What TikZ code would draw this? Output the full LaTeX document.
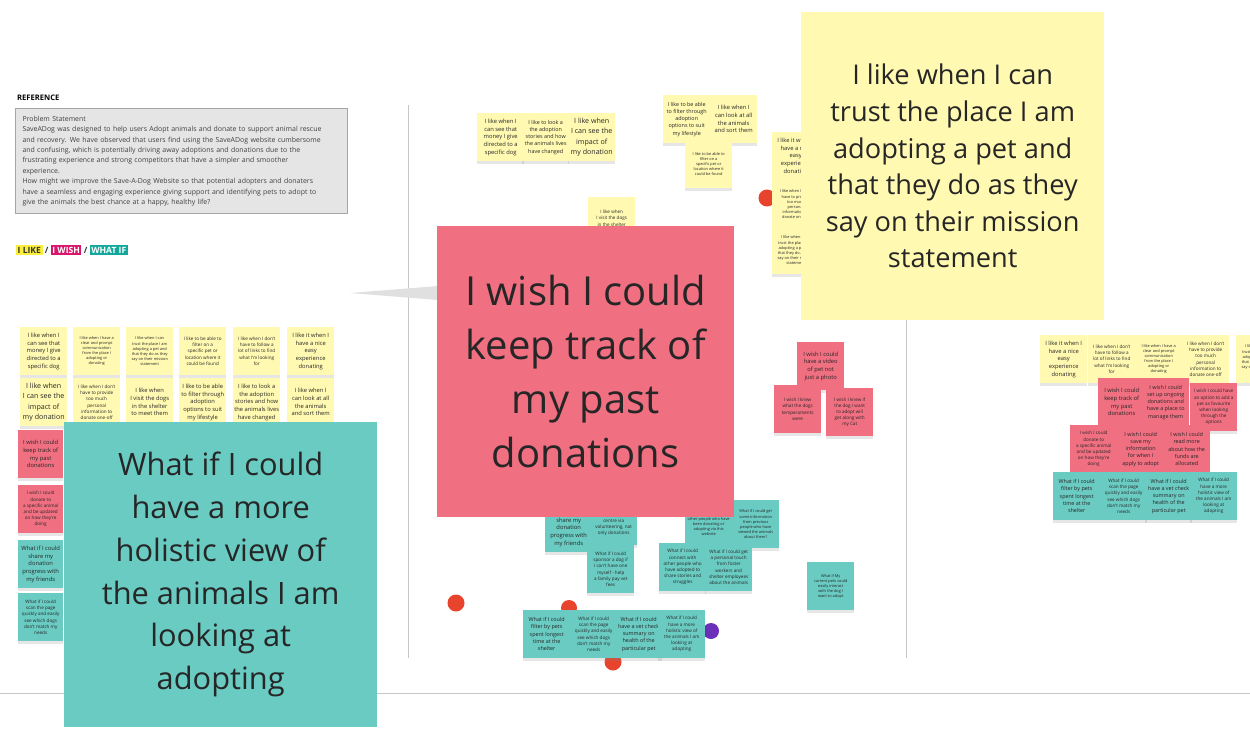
\documentclass[tikz,border=0pt]{standalone}
\usepackage{fontspec}
\setmainfont{Open Sans}
\usetikzlibrary{shadows}
\definecolor{noteY}{HTML}{FFF9B1}
\definecolor{noteP}{HTML}{F06F81}
\definecolor{noteT}{HTML}{69CBC2}
\definecolor{lgY}{HTML}{FCEF3C}
\definecolor{lgP}{HTML}{D8176C}
\definecolor{lgT}{HTML}{14A89C}
\definecolor{dotR}{HTML}{E8442D}
\definecolor{dotV}{HTML}{6B2FBA}
\definecolor{inkc}{HTML}{262626}
\begin{document}
\begin{tikzpicture}[x=1pt,y=-1pt,
  sticky/.style={anchor=north west, minimum width=47pt, minimum height=48pt,
    align=center, inner sep=0pt, text=inkc,
    drop shadow={shadow xshift=0pt, shadow yshift=-2.5pt, opacity=0.2}},
  yel/.style={sticky, fill=noteY},
  pnk/.style={sticky, fill=noteP},
  tea/.style={sticky, fill=noteT},
  fL/.style={font=\fontsize{7.1}{10.2}\selectfont},
  fM/.style={font=\fontsize{5.8}{7.7}\selectfont},
  fN/.style={font=\fontsize{5.4}{7.3}\selectfont},
  fS/.style={font=\fontsize{4.6}{6.2}\selectfont},
  fT/.style={font=\fontsize{3.9}{5.1}\selectfont},
  big/.style={anchor=north west, inner sep=0pt, align=center, text=inkc},
  sepline/.style={draw=black!22, line width=0.9pt},
  lg/.style={anchor=west, inner xsep=1.5pt, inner ysep=1.8pt, font=\fontsize{8.6}{9}\bfseries},
]
\useasboundingbox (0,0) rectangle (1250,750);
\clip (0,0) rectangle (1250,750);

% separators
\draw[sepline] (408,105) -- (408,658);
\draw[sepline] (906,105) -- (906,658);
\draw[sepline] (0,693) -- (1250,693);

% header and problem statement
\node[anchor=west, inner sep=0pt, font=\fontsize{7.6}{8}\bfseries, text=black] (ref) at (17,98) {REFERENCE};
\node[anchor=north west, draw=black!35, fill=black!10, line width=1pt, minimum width=327pt,
  minimum height=105pt, text width=318pt, inner xsep=7pt, inner ysep=4pt, align=left,
  text=black!75, font=\fontsize{6.95}{10.4}\selectfont] (ps) at (15,108)
  {Problem Statement\\
  SaveADog was designed to help users Adopt animals and donate to support animal rescue\\
  and recovery. We have observed that users find using the SaveADog website cumbersome\\
  and confusing, which is potentially driving away adoptions and donations due to the\\
  frustrating experience and strong competitors that have a simpler and smoother\\
  experience.\\
  How might we improve the Save-A-Dog Website so that potential adopters and donaters\\
  have a seamless and engaging experience giving support and identifying pets to adopt to\\
  give the animals the best chance at a happy, healthy life?};

% legend
\node[lg, fill=lgY, text=black!80] (lgA) at (16,250) {I LIKE};
\node[lg, fill=none, text=black!80, inner xsep=2pt] (s1) at (lgA.east) {/};
\node[lg, fill=lgP, text=white] (lgB) at (s1.east) {I WISH};
\node[lg, fill=none, text=black!80, inner xsep=2pt] (s2) at (lgB.east) {/};
\node[lg, fill=lgT, text=white] (lgC) at (s2.east) {WHAT IF};

% dots (behind notes)
\fill[dotR] (767,198) circle (8.5pt);
\fill[dotR] (456,603) circle (8.5pt);
\fill[dotR] (569,608) circle (8pt);
\fill[dotR] (613,662) circle (8.5pt);
\fill[dotV] (711,631) circle (8pt);

% left grid
\node[yel,fM] (l11) at (20,327) {I like when I\\can see that\\money I give\\directed to a\\specific dog};
\node[yel,fT] (l12) at (73,327) {I like when I have a\\clear and prompt\\communication\\from the place I\\adopting or\\donating};
\node[yel,fT] (l13) at (126,327) {I like when I can\\trust the place I am\\adopting a pet and\\that they do as they\\say on their mission\\statement};
\node[yel,fS] (l14) at (179,327) {I like to be able to\\filter on a\\specific pet or\\location where it\\could be found};
\node[yel,fS] (l15) at (233,327) {I like when I don't\\have to follow a\\lot of links to find\\what I'm looking\\for};
\node[yel,fM] (l16) at (287,327) {I like it when I\\have a nice\\easy\\experience\\donating};
\node[yel,fL] (l21) at (20,378) {I like when\\I can see the\\impact of\\my donation};
\node[yel,fS] (l22) at (73,378) {I like when I don't\\have to provide\\too much\\personal\\information to\\donate one-off};
\node[yel,fM] (l23) at (126,378) {I like when\\I visit the dogs\\in the shelter\\to meet them};
\node[yel,fM] (l24) at (179,378) {I like to be able\\to filter through\\adoption\\options to suit\\my lifestyle};
\node[yel,fM] (l25) at (233,378) {I like to look a\\the adoption\\stories and how\\the animals lives\\have changed};
\node[yel,fM] (l26) at (287,378) {I like when I\\can look at all\\the animals\\and sort them};

% left column
\node[pnk,fM,minimum width=45pt] (lc1) at (18,430) {I wish I could\\keep track of\\my past\\donations};
\node[pnk,fS,minimum width=45pt] (lc2) at (18,485) {I wish I could\\donate to\\a specific animal\\and be updated\\on how they're\\doing};
\node[tea,fM,minimum width=45pt] (lc3) at (18,540) {What if I could\\share my\\donation\\progress with\\my friends};
\node[tea,fS,minimum width=45pt] (lc4) at (18,593) {What if I could\\scan the page\\quickly and easily\\see which dogs\\don't match my\\needs};

% middle top
\node[yel,fM] (mA) at (477,113) {I like when I\\can see that\\money I give\\directed to a\\specific dog};
\node[yel,fN] (mB) at (522,113) {I like to look a\\the adoption\\stories and how\\the animals lives\\have changed};
\node[yel,fL] (mC) at (568,113) {I like when\\I can see the\\impact of\\my donation};
\node[yel,fN] (mD) at (663,95) {I like to be able\\to filter through\\adoption\\options to suit\\my lifestyle};
\node[yel,fM] (mE) at (710,95) {I like when I\\can look at all\\the animals\\and sort them};
\node[yel,fT] (mF) at (685,140) {I like to be able to\\filter on a\\specific pet or\\location where it\\could be found};
\node[yel,fM] (mG) at (772,132) {I like it when I\\have a nice\\easy\\experience\\donating};
\node[yel,fT] (mH) at (772,180) {I like when I don't\\have to provide\\too much\\personal\\information to\\donate one-off};
\node[yel,fT] (mI) at (772,226) {I like when I can\\trust the place I am\\adopting a pet and\\that they do as they\\say on their mission\\statement};
\node[yel,fS] (mJ) at (588,197) {I like when\\I visit the dogs\\in the shelter\\to meet them};

% middle pink trio
\node[pnk,fM] (pS) at (797,342) {I wish I could\\have a video\\of pet not\\just a photo};
\node[pnk,fS] (pT) at (774,385) {I wish I knew\\what the dogs\\temperaments\\were};
\node[pnk,fS] (pU) at (826,388) {I wish I knew if\\the dog I want\\to adopt will\\get along with\\my Cat};

% middle teal
\node[tea,fM] (tK) at (545,504) {What if I could\\share my\\donation\\progress with\\my friends};
\node[tea,fS] (tL) at (590,497) {What if I could\\help adoption\\centre via\\volunteering, not\\only donations};
\node[tea,fS] (tM) at (587,545) {What if I could\\sponsor a dog if\\I can't have one\\myself - help\\a family pay vet\\fees};
\node[tea,fT] (tN) at (685,497) {What if I could\\connect with\\other people who have\\been donating or\\adopting via this\\website};
\node[tea,fT] (tO) at (732,500) {What if I could get\\some information\\from previous\\people who have\\viewed the animals\\about them?};
\node[tea,fS] (tP) at (659,543) {What if I could\\connect with\\other people who\\have adopted to\\share stories and\\struggles};
\node[tea,fS] (tQ) at (705,543) {What if I could get\\a personal touch\\from foster\\workers and\\shelter employees\\about the animals};
\node[tea,fN] (tR1) at (523,610) {What if I could\\filter by pets\\spent longest\\time at the\\shelter};
\node[tea,fS] (tR2) at (570,610) {What if I could\\scan the page\\quickly and easily\\see which dogs\\don't match my\\needs};
\node[tea,fN] (tR3) at (615,610) {What if I could\\have a vet check\\summary on\\health of the\\particular pet};
\node[tea,fS] (tR4) at (658,610) {What if I could\\have a more\\holistic view of\\the animals I am\\looking at\\adopting};
\node[tea,fT] (tX) at (807,562) {What if My\\current pets could\\easily interact\\with the dog I\\want to adopt};

% right cluster
\node[yel,fM] (rY1) at (1040,335) {I like it when I\\have a nice\\easy\\experience\\donating};
\node[yel,fS] (rY2) at (1088,335) {I like when I don't\\have to follow a\\lot of links to find\\what I'm looking\\for};
\node[yel,fT] (rY3) at (1135,335) {I like when I have a\\clear and prompt\\communication\\from the place I\\adopting or\\donating};
\node[yel,fS] (rY4) at (1182,335) {I like when I don't\\have to provide\\too much\\personal\\information to\\donate one-off};
\node[yel,fT] (rY5) at (1236,335) {I like when I can\\trust the place I am\\adopting a pet and\\that they do as they\\say on their mission\\statement};
\node[pnk,fM] (rP1) at (1098,378) {I wish I could\\keep track of\\my past\\donations};
\node[pnk,fN] (rP2) at (1142,378) {I wish I could\\set up ongoing\\donations and\\have a place to\\manage them};
\node[pnk,fS] (rP3) at (1190,383) {I wish I could have\\an option to add a\\pet as favourite\\when looking\\through the\\options};
\node[pnk,fS] (rP4) at (1070,425) {I wish I could\\donate to\\a specific animal\\and be updated\\on how they're\\doing};
\node[pnk,fN] (rP5) at (1117,425) {I wish I could\\save my\\information\\for when I\\apply to adopt};
\node[pnk,fN] (rP6) at (1163,425) {I wish I could\\read more\\about how the\\funds are\\allocated};
\node[tea,fN] (rT1) at (1053,472) {What if I could\\filter by pets\\spent longest\\time at the\\shelter};
\node[tea,fS] (rT2) at (1100,472) {What if I could\\scan the page\\quickly and easily\\see which dogs\\don't match my\\needs};
\node[tea,fN] (rT3) at (1145,472) {What if I could\\have a vet check\\summary on\\health of the\\particular pet};
\node[tea,fS] (rT4) at (1190,472) {What if I could\\have a more\\holistic view of\\the animals I am\\looking at\\adopting};

% callout wedge
\fill[black!12] (350,293) -- (438,286) -- (438,300) -- cycle;

% big notes
\node[big, fill=noteP, minimum width=297pt, minimum height=291pt,
  font=\fontsize{40}{54}\selectfont] (wish) at (437,226)
  {I wish I could\\keep track of\\my past\\donations};
\node[big, fill=noteY, minimum width=303pt, minimum height=308pt,
  font=\fontsize{27.2}{36.6}\selectfont] (like) at (801,12)
  {I like when I can\\trust the place I am\\adopting a pet and\\that they do as they\\say on their mission\\statement};
\node[big, fill=noteT, minimum width=313pt, minimum height=305pt,
  font=\fontsize{30.8}{42.8}\selectfont] (whatif) at (64,422)
  {What if I could\\have a more\\holistic view of\\the animals I am\\looking at\\adopting};
\end{tikzpicture}
\end{document}
